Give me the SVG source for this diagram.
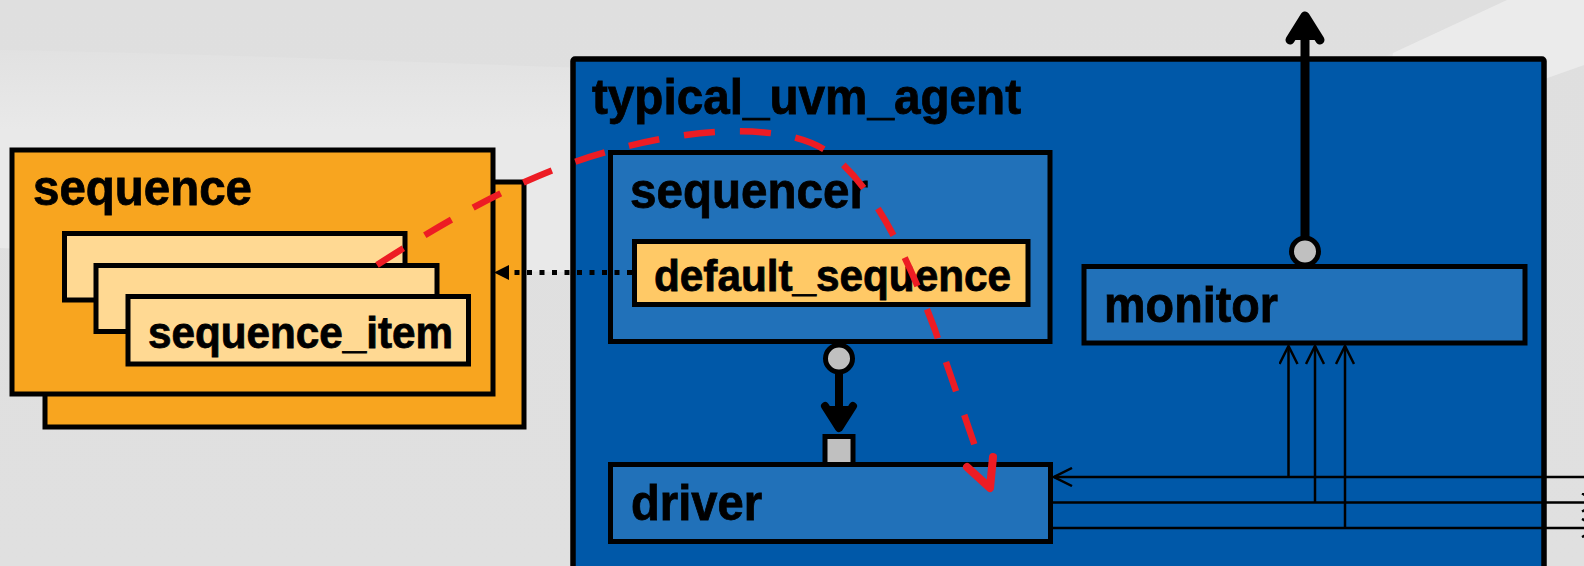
<svg xmlns="http://www.w3.org/2000/svg" width="1584" height="566" viewBox="0 0 1584 566">
  <defs>
    <linearGradient id="bg" x1="0" y1="0" x2="0" y2="1">
      <stop offset="0" stop-color="#dfdfdf"/>
      <stop offset="1" stop-color="#e0e0e0"/>
    </linearGradient>
    <linearGradient id="band" gradientUnits="userSpaceOnUse" x1="0" y1="35" x2="0" y2="130">
      <stop offset="0" stop-color="#e0e0e0"/>
      <stop offset="1" stop-color="#e9e9e9"/>
    </linearGradient>
    <marker id="openArrow" viewBox="0 0 20 20" refX="19" refY="10" markerWidth="20" markerHeight="20" markerUnits="userSpaceOnUse" orient="auto">
      <path d="M1,1 L19,10 L1,19" fill="none" stroke="#000" stroke-width="2.5"/>
    </marker>
  </defs>
  <style>
    .lbl { font-family: "Liberation Sans", Arial, Helvetica, sans-serif; font-weight: bold; fill: #000; stroke: #000; stroke-width: 0.8; }
    .big { font-size: 50px; }
    .small { font-size: 44px; }
    .box { stroke: #000; stroke-width: 5; }
    .seq { fill: #f8a51f; }
    .item { fill: #ffd993; }
    .agent { fill: #0058a8; }
    .comp { fill: #2171b9; }
    .dseq { fill: #ffc966; }
    .port { fill: #c0c0c0; stroke: #000; stroke-width: 5; }
    .thick { stroke: #000; stroke-linecap: round; stroke-linejoin: round; }
    .thin { stroke: #000; stroke-width: 2.5; fill: none; }
  </style>

  <!-- background -->
  <rect x="0" y="0" width="1584" height="566" fill="url(#bg)"/>
  <path d="M0,50 C300,55 700,75 1000,80 C1200,84 1330,80 1393,53 L1507,0 L1584,0 L1584,65 L1550,77 C1300,170 900,272 600,272 C400,272 200,255 0,248 Z" fill="url(#band)"/>
  <polygon points="1393,53 1507,0 1584,0 1584,65 1550,77 1380,140" fill="#ebebeb"/>

  <g id="sequence">
    <rect class="box seq" x="45" y="182" width="479" height="245"/>
    <rect class="box seq" x="12" y="150" width="481" height="244"/>
    <text class="lbl big" x="33" y="205" textLength="219" lengthAdjust="spacingAndGlyphs">sequence</text>
  </g>

  <g id="sequence_item">
    <rect class="box item" x="64.5" y="233.5" width="340.5" height="66.5"/>
    <rect class="box item" x="96" y="265.5" width="341" height="66"/>
    <rect class="box item" x="128" y="296.5" width="340.5" height="67.5"/>
    <text class="lbl small" x="148" y="348" textLength="305" lengthAdjust="spacingAndGlyphs">sequence_item</text>
  </g>

  <g id="typical_uvm_agent">
    <rect class="agent" x="573" y="59" width="971" height="600" rx="2" stroke="#000" stroke-width="5.5"/>
    <text class="lbl big" x="592" y="114" textLength="429" lengthAdjust="spacingAndGlyphs">typical_uvm_agent</text>
  </g>

  <g id="sequencer">
    <rect class="box comp" x="610.5" y="152.5" width="439.5" height="189"/>
    <text class="lbl big" x="630" y="208" textLength="238" lengthAdjust="spacingAndGlyphs">sequencer</text>
  </g>

  <g id="default_sequence">
    <rect class="box dseq" x="634.5" y="241.5" width="393.5" height="63"/>
    <text class="lbl small" x="654" y="291" textLength="357" lengthAdjust="spacingAndGlyphs">default_sequence</text>
  </g>

  <g id="monitor">
    <rect class="box comp" x="1084" y="266.5" width="441" height="76.5"/>
    <text class="lbl big" x="1104" y="322" textLength="174" lengthAdjust="spacingAndGlyphs">monitor</text>
  </g>

  <g id="driver">
    <rect class="box comp" x="610.5" y="464.5" width="440" height="77"/>
    <text class="lbl big" x="631" y="520" textLength="131" lengthAdjust="spacingAndGlyphs">driver</text>
  </g>

  <g id="connectors">
    <!-- dotted arrow default_sequence -> sequence -->
    <line x1="632" y1="272.5" x2="508" y2="272.5" stroke="#000" stroke-width="5" stroke-dasharray="5 7.5"/>
    <polygon points="494,272.5 509,265 509,280" fill="#000"/>

    <!-- sequencer port -> driver export -->
    <line class="thick" x1="839" y1="372" x2="839" y2="424" stroke-width="8"/>
    <path class="thick" d="M825,406 L839,428 L853,406" fill="#000" stroke-width="8"/>
    <circle class="port" cx="839" cy="358.5" r="13.5"/>
    <rect class="port" x="825" y="436.5" width="28" height="28" stroke-width="6"/>

    <!-- monitor analysis port upward -->
    <line class="thick" x1="1305" y1="238" x2="1305" y2="22" stroke-width="9"/>
    <path class="thick" d="M1290,40 L1305,16 L1320,40" fill="#000" stroke-width="9"/>
    <circle class="port" cx="1305" cy="251.5" r="13.5"/>

    <!-- interface signals -->
    <path class="thin" d="M1584,477 L1054,477" marker-end="url(#openArrow)"/>
    <path class="thin" d="M1052,502.5 L1600,502.5" marker-end="url(#openArrow)"/>
    <path class="thin" d="M1052,528 L1600,528" marker-end="url(#openArrow)"/>
    <path class="thin" d="M1288.5,477 L1288.5,346" marker-end="url(#openArrow)"/>
    <path class="thin" d="M1315,502.5 L1315,346" marker-end="url(#openArrow)"/>
    <path class="thin" d="M1345,528 L1345,346" marker-end="url(#openArrow)"/>

    <!-- red dashed flow -->
    <path d="M377,265 C470,205 540,170 610,151 C690,128 780,122 825,150 C870,180 905,250 935,330 L977,452" fill="none" stroke="#ed1c24" stroke-width="6.5" stroke-dasharray="31 25"/>
    <path d="M967,467 L990,488 L993,457" fill="none" stroke="#ed1c24" stroke-width="8" stroke-linecap="round" stroke-linejoin="round"/>
  </g>
</svg>
